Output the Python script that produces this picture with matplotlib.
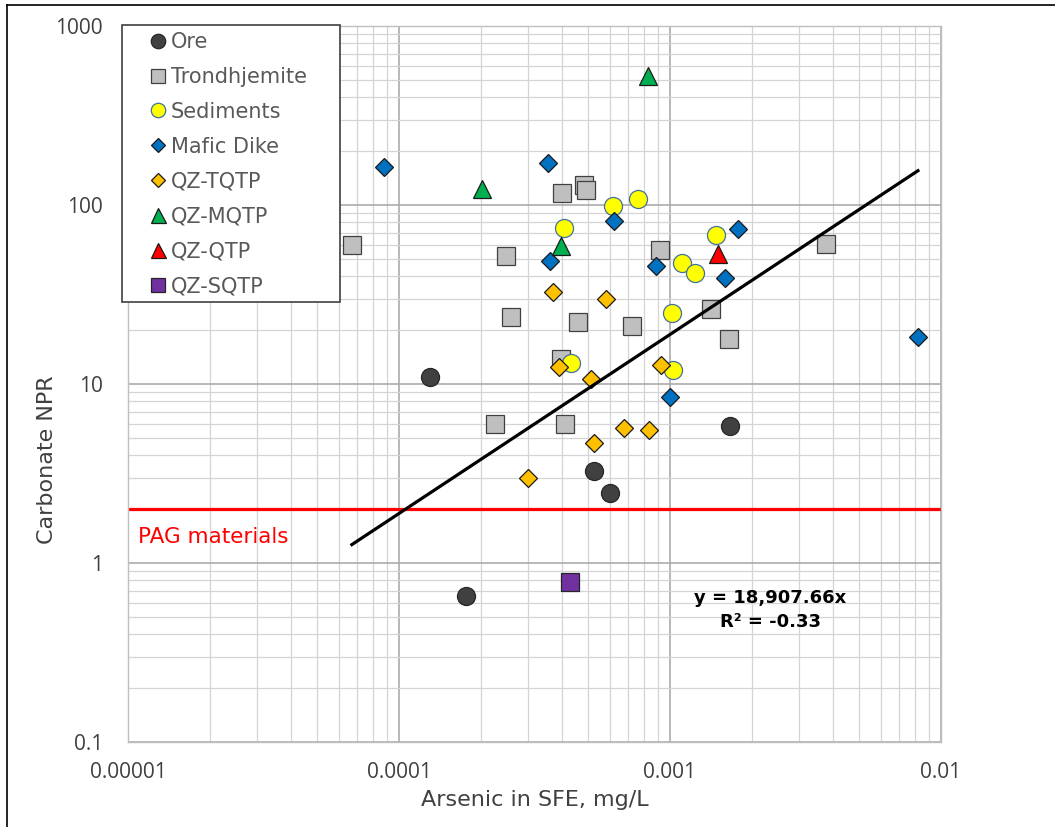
import numpy as np
import matplotlib
matplotlib.use("Agg")
import matplotlib.pyplot as plt
from matplotlib.lines import Line2D
from matplotlib.patches import Rectangle
from matplotlib.ticker import FixedLocator, LogLocator, NullFormatter

# data (x = Arsenic in SFE mg/L, y = Carbonate NPR)
ore_x = [1.30e-4, 5.24e-4, 6.00e-4, 1.66e-3, 1.77e-4]
ore_y = [10.9, 3.27, 2.46, 5.82, 0.65]

trond_x = [6.70e-5, 2.49e-4, 2.60e-4, 3.98e-4, 4.80e-4, 4.89e-4, 4.56e-4, 7.23e-4,
           9.16e-4, 1.42e-3, 1.65e-3, 3.75e-3, 2.27e-4, 4.09e-4, 3.97e-4]
trond_y = [59.8, 51.9, 23.7, 116.7, 129, 121, 22.2, 21.1,
           55.8, 26.1, 17.8, 60.5, 5.96, 5.96, 13.8]

sed_x = [4.05e-4, 6.16e-4, 7.59e-4, 1.11e-3, 1.24e-3, 1.48e-3, 1.02e-3, 1.03e-3, 4.32e-4]
sed_y = [74.7, 99.1, 108, 47.4, 41.5, 68.2, 25.0, 12.0, 13.1]

mafic_x = [8.78e-5, 3.56e-4, 6.24e-4, 3.60e-4, 8.87e-4, 1.78e-3, 1.60e-3, 1.00e-3, 8.22e-3]
mafic_y = [164, 171, 81.4, 48.7, 45.6, 73.5, 38.9, 8.49, 18.3]

tqtp_x = [3.70e-4, 5.83e-4, 3.89e-4, 5.13e-4, 9.24e-4, 6.79e-4, 8.36e-4, 5.24e-4, 2.99e-4]
tqtp_y = [32.5, 29.8, 12.5, 10.7, 12.7, 5.70, 5.53, 4.70, 2.97]

mqtp_x = [8.27e-4, 2.02e-4, 3.95e-4]
mqtp_y = [526, 123, 59.0]

qtp_x = [1.50e-3]
qtp_y = [53.3]

sqtp_x = [4.27e-4]
sqtp_y = [0.787]

slope = 18907.66
r2 = -0.33
pag_limit = 2

x_ticks = [1e-5, 1e-4, 1e-3, 1e-2]
x_ticklabels = ["0.00001", "0.0001", "0.001", "0.01"]
y_ticks = [0.1, 1, 10, 100, 1000]
y_ticklabels = ["0.1", "1", "10", "100", "1000"]

W, H = 1055, 827
fig = plt.figure(figsize=(W / 100, H / 100), dpi=100)
ax = fig.add_axes([128 / W, 1 - 742 / H, 813 / W, 716 / H])

series = [
    ("Ore", ore_x, ore_y, "o", 13, "#404040", "#262626"),
    ("Trondhjemite", trond_x, trond_y, "s", 13, "#BFBFBF", "#404040"),
    ("Sediments", sed_x, sed_y, "o", 13, "#FFFF00", "#41719C"),
    ("Mafic Dike", mafic_x, mafic_y, "D", 9.2, "#0070C0", "#1A1A1A"),
    ("QZ-TQTP", tqtp_x, tqtp_y, "D", 9.2, "#FFC000", "#1A1A1A"),
    ("QZ-MQTP", mqtp_x, mqtp_y, "^", 13.5, "#00B050", "#1A1A1A"),
    ("QZ-QTP", qtp_x, qtp_y, "^", 13.5, "#FF0000", "#1A1A1A"),
    ("QZ-SQTP", sqtp_x, sqtp_y, "s", 13, "#7030A0", "#262626"),
]

handles = []
for name, xs, ys, mk, ms, fc, ec in series:
    h, = ax.plot(xs, ys, linestyle="none", marker=mk, markersize=ms,
                 markerfacecolor=fc, markeredgecolor=ec, markeredgewidth=0.9,
                 label=name, zorder=3)
    handles.append(h)

# linear trendline through origin, spanning the data range
all_x = np.concatenate([ore_x, trond_x, sed_x, mafic_x, tqtp_x, mqtp_x, qtp_x, sqtp_x])
tx = np.array([all_x.min(), all_x.max()])
ax.plot(tx, slope * tx, color="black", lw=2.3, zorder=4)

ax.axhline(pag_limit, color="#FF0000", lw=2.3, zorder=2)
ax.text(0.012, 0.286, "PAG materials", transform=ax.transAxes, color="#FF0000",
        fontsize=15.5, va="center", ha="left", family="DejaVu Sans")

ax.set_xscale("log")
ax.set_yscale("log")
ax.set_xlim(1e-5, 1e-2)
ax.set_ylim(0.1, 1000)

ax.xaxis.set_major_locator(FixedLocator(x_ticks))
ax.set_xticklabels(x_ticklabels)
ax.yaxis.set_major_locator(FixedLocator(y_ticks))
ax.set_yticklabels(y_ticklabels)
ax.xaxis.set_minor_locator(LogLocator(base=10, subs=np.arange(2, 10), numticks=20))
ax.yaxis.set_minor_locator(LogLocator(base=10, subs=np.arange(2, 10), numticks=20))
ax.xaxis.set_minor_formatter(NullFormatter())
ax.yaxis.set_minor_formatter(NullFormatter())

ax.grid(which="major", color="#ABABAB", lw=1.2, zorder=0)
ax.grid(which="minor", color="#D4D4D4", lw=0.9, zorder=0)
ax.set_axisbelow(True)

ax.tick_params(axis="both", which="both", length=0)
ax.tick_params(axis="x", pad=14.5)
ax.tick_params(axis="y", pad=18)
for lab in ax.get_xticklabels() + ax.get_yticklabels():
    lab.set_family(["Open Sans", "DejaVu Sans"])
    lab.set_fontsize(15)
    lab.set_color("#404040")

for sp in ax.spines.values():
    sp.set_color("#BFBFBF")
    sp.set_linewidth(1)

ax.set_xlabel("Arsenic in SFE, mg/L", fontsize=16, color="#404040", va="center")
ax.set_ylabel("Carbonate NPR", fontsize=16, color="#404040", va="center")
ax.xaxis.set_label_coords(0.5, (742 - 800) / 716)
ax.yaxis.set_label_coords((47 - 128) / 813, (742 - 460) / 716)

# trendline equation
fig.text(770 / W, 1 - 610 / H, "y = 18,907.66x\nR\u00b2 = %.2f" % r2,
         ha="center", va="center", multialignment="center",
         fontsize=13, fontweight="bold", color="black", linespacing=1.45)

# legend box with its own frame
fig.add_artist(Rectangle((122 / W, 1 - 302 / H), 218 / W, 277 / H,
                         transform=fig.transFigure, facecolor="white",
                         edgecolor="#404040", lw=1.2, zorder=5))
leg = fig.legend(handles=handles, loc="upper left",
                 bbox_to_anchor=(148 / W, 1 - 32 / H),
                 bbox_transform=fig.transFigure, frameon=False,
                 fontsize=15, labelspacing=0.715, handlelength=1.0,
                 handletextpad=0.1, borderpad=0, borderaxespad=0,
                 markerscale=0.8)
leg.set_zorder(6)
for t in leg.get_texts():
    t.set_color("#595959")

# outer chart border (only top and left edges fall inside the image)
fig.add_artist(Line2D([7 / W, 1.0], [1 - 5 / H, 1 - 5 / H], transform=fig.transFigure,
                      color="black", lw=1.2))
fig.add_artist(Line2D([7 / W, 7 / W], [0, 1 - 5 / H], transform=fig.transFigure,
                      color="black", lw=1.2))

fig.savefig("out.png", dpi=100)
